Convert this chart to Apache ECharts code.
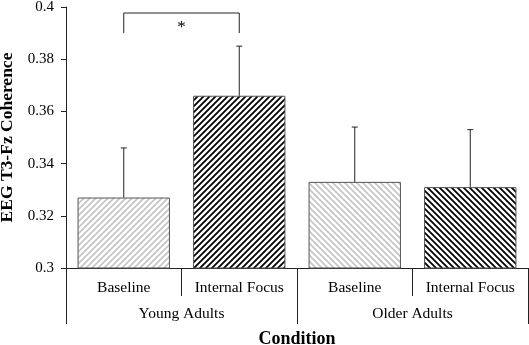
<!DOCTYPE html>
<html>
<head>
<meta charset="utf-8">
<script src="https://cdn.jsdelivr.net/npm/echarts@6/dist/echarts.min.js"></script>
<style>
  html, body { margin: 0; padding: 0; background: #fff; }
  #chart { width: 529px; height: 345px; }
</style>
</head>
<body>
<div id="chart"></div>
<script>
const conditions = ['Baseline', 'Internal Focus', 'Baseline', 'Internal Focus'];
const groups = ['Young Adults', 'Older Adults'];
const means = [0.327, 0.366, 0.333, 0.331];
const errors = [0.019, 0.019, 0.021, 0.022];
// significance bracket: bar pair, foot level, top level
const sigPairs = [[0, 1]];
const sigLow = [0.390];
const sigHigh = [0.3977];
const sigMarks = ['*'];

const FONT = '"Liberation Serif", "Times New Roman", serif';
const INK = '#222';

// diagonal hatch tile
function hatch(color, dir, width) {
  const s = 6;
  const c = document.createElement('canvas');
  c.width = s; c.height = s;
  const ctx = c.getContext('2d');
  ctx.fillStyle = '#fff';
  ctx.fillRect(0, 0, s, s);
  ctx.strokeStyle = color;
  ctx.lineWidth = width;
  ctx.beginPath();
  if (dir === '/') {
    ctx.moveTo(-1, s + 1); ctx.lineTo(s + 1, -1);
    ctx.moveTo(-1, 1); ctx.lineTo(1, -1);
    ctx.moveTo(s - 1, s + 1); ctx.lineTo(s + 1, s - 1);
  } else {
    ctx.moveTo(-1, -1); ctx.lineTo(s + 1, s + 1);
    ctx.moveTo(-1, s - 1); ctx.lineTo(1, s + 1);
    ctx.moveTo(s - 1, -1); ctx.lineTo(s + 1, 1);
  }
  ctx.stroke();
  return { image: c, repeat: 'repeat' };
}

const fills = [
  hatch('#c4c4c4', '/', 1.6),
  hatch('#000', '/', 1.8),
  hatch('#c4c4c4', '\\', 1.6),
  hatch('#000', '\\', 1.8)
];

const chart = echarts.init(document.getElementById('chart'));

const option = {
  animation: false,
  grid: { left: 66, right: 1, top: 7, bottom: 77, containLabel: false, outerBoundsMode: 'none' },
  xAxis: [
    {
      type: 'category',
      data: conditions,
      position: 'bottom',
      axisLine: { lineStyle: { color: INK, width: 1 } },
      axisTick: { show: true, interval: 0, length: 28, lineStyle: { color: INK } },
      axisLabel: { interval: 0, margin: 12, fontFamily: FONT, fontSize: 15.5, color: '#000' }
    },
    {
      type: 'category',
      data: groups,
      position: 'bottom',
      axisLine: { show: false },
      axisTick: { show: true, interval: 0, length: 56, lineStyle: { color: INK } },
      axisLabel: { interval: 0, margin: 38, fontFamily: FONT, fontSize: 15.5, color: '#000' },
      name: 'Condition',
      nameLocation: 'middle',
      nameGap: 62,
      nameTextStyle: { fontFamily: FONT, fontSize: 18, fontWeight: 'bold', color: '#000' }
    }
  ],
  yAxis: {
    type: 'value',
    min: 0.3,
    max: 0.4,
    interval: 0.02,
    axisLine: { show: true, lineStyle: { color: INK } },
    axisTick: { show: true, length: 5, lineStyle: { color: INK } },
    splitLine: { show: false },
    axisLabel: {
      margin: 12,
      fontFamily: FONT,
      fontSize: 15,
      color: '#000',
      formatter: v => String(+v.toFixed(2))
    },
    name: 'EEG T3-Fz Coherence',
    nameLocation: 'middle',
    nameGap: 42,
    nameTextStyle: { fontFamily: FONT, fontSize: 17.5, fontWeight: 'bold', color: '#000' }
  },
  series: [
    {
      type: 'bar',
      xAxisIndex: 0,
      barWidth: '80%',
      data: means.map((v, i) => ({
        value: v,
        itemStyle: { color: fills[i], borderColor: '#555', borderWidth: 1 }
      }))
    },
    {
      type: 'custom',
      xAxisIndex: 0,
      data: means.map((v, i) => [i, v, v + errors[i]]),
      renderItem: (params, api) => {
        const base = api.coord([api.value(0), api.value(1)]);
        const top = api.coord([api.value(0), api.value(2)]);
        const st = { stroke: INK, lineWidth: 1 };
        return {
          type: 'group',
          children: [
            { type: 'line', shape: { x1: base[0], y1: base[1], x2: top[0], y2: top[1] }, style: st },
            { type: 'line', shape: { x1: top[0] - 3, y1: top[1], x2: top[0] + 3, y2: top[1] }, style: st }
          ]
        };
      },
      z: 3
    },
    {
      type: 'custom',
      xAxisIndex: 0,
      data: sigPairs.map((p, i) => [p[0], p[1], sigLow[i], sigHigh[i]]),
      renderItem: (params, api) => {
        const a = api.coord([api.value(0), api.value(2)]);
        const b = api.coord([api.value(1), api.value(3)]);
        const yLow = a[1], yTop = b[1];
        return {
          type: 'group',
          children: [
            {
              type: 'polyline',
              shape: { points: [[a[0], yLow], [a[0], yTop], [b[0], yTop], [b[0], yLow]] },
              style: { stroke: INK, lineWidth: 1, fill: null }
            },
            {
              type: 'text',
              style: {
                text: sigMarks[params.dataIndex],
                x: (a[0] + b[0]) / 2,
                y: yTop + 15,
                align: 'center',
                verticalAlign: 'middle',
                font: '17px ' + FONT,
                fill: '#000'
              }
            }
          ]
        };
      },
      z: 3
    }
  ]
};

chart.setOption(option);
</script>
</body>
</html>
